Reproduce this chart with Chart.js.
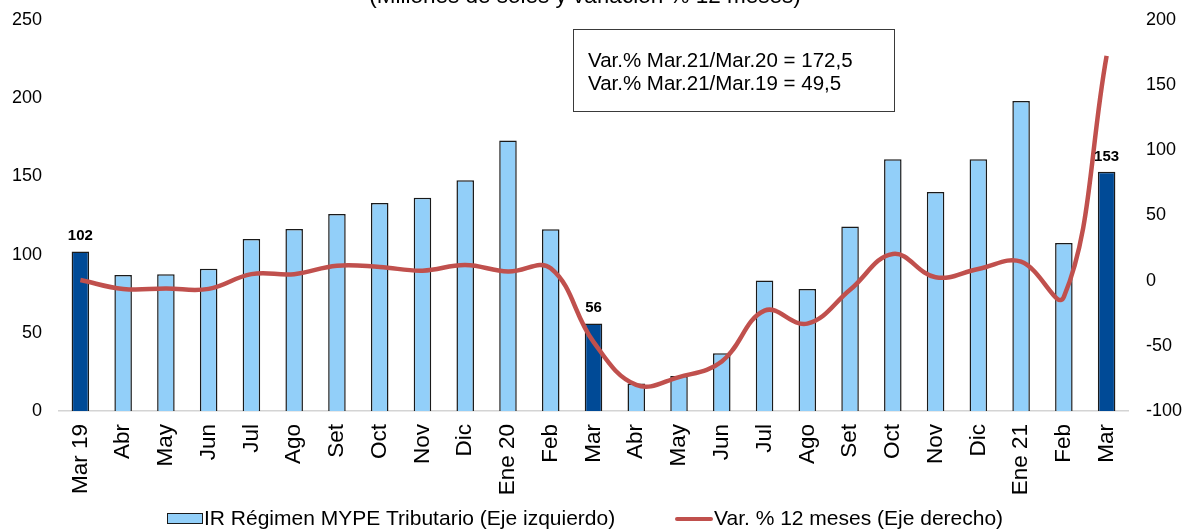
<!DOCTYPE html>
<html>
<head>
<meta charset="utf-8">
<script src="https://cdn.jsdelivr.net/npm/chart.js@4/dist/chart.umd.min.js"></script>
<style>
  html, body { margin: 0; padding: 0; background: #ffffff; }
  #wrap { width: 1184px; height: 530px; position: relative; }
</style>
</head>
<body>
<div id="wrap"><canvas id="c" width="1184" height="530"></canvas></div>
<script>
// ---- Data ----
const categories = ['Mar 19','Abr','May','Jun','Jul','Ago','Set','Oct','Nov','Dic','Ene 20','Feb',
                    'Mar','Abr','May','Jun','Jul','Ago','Set','Oct','Nov','Dic','Ene 21','Feb','Mar'];
const recaudacion = [102, 87, 87.5, 91, 110, 116.4, 126, 133, 136.4, 147.5, 173, 116.2,
                     56, 17.6, 22.3, 37, 83.4, 78, 118, 161, 140, 161, 198.2, 107.4, 153];
const variacion = [0.5, -6.4, -6, -6.3, 5, 5, 11.5, 10.5, 7.7, 12, 7, 9.5,
                   -47, -80, -74, -62, -23, -33, -7, 20.5, 2.6, 9, 14.6, -12.5, 172.5];
const destacados = [0, 12, 24];           // indexes of the labelled months
const leftTicks = [0, 50, 100, 150, 200, 250];
const rightTicks = [-100, -50, 0, 50, 100, 150, 200];
const titleText = '(Millones de soles y variación % 12 meses)';
const serieBarras = 'IR Régimen MYPE Tributario (Eje izquierdo)';
const serieLinea = 'Var. % 12 meses (Eje derecho)';
const notaLineas = ['Var.% Mar.21/Mar.20 = 172,5', 'Var.% Mar.21/Mar.19 = 49,5'];

// ---- Styles ----
const FONT = '"Liberation Sans", Arial, sans-serif';
const LIGHT = '#92CFF9';
const DARK = '#004A96';
const RED = '#C0504D';

const barColors = recaudacion.map((v, i) => destacados.includes(i) ? DARK : LIGHT);

const overlay = {
  id: 'overlay',
  afterDatasetsDraw(chart) {
    const ctx = chart.ctx;
    const meta = chart.getDatasetMeta(1);
    ctx.save();
    ctx.font = 'bold 15px ' + FONT;
    ctx.fillStyle = '#000';
    ctx.textAlign = 'center';
    ctx.textBaseline = 'alphabetic';
    destacados.forEach(i => {
      const el = meta.data[i];
      ctx.fillText(Math.round(recaudacion[i]).toString(), el.x, el.y - 11);
    });
    ctx.restore();
  },
  afterDraw(chart) {
    const ctx = chart.ctx;
    ctx.save();
    // title (cut at top)
    ctx.font = '22.5px ' + FONT;
    ctx.fillStyle = '#000';
    ctx.textAlign = 'center';
    ctx.textBaseline = 'alphabetic';
    ctx.fillText(titleText, 585, 3);
    // annotation box
    ctx.fillStyle = '#fff';
    ctx.fillRect(573.5, 29.5, 321, 82);
    ctx.strokeStyle = '#3a3a3a';
    ctx.lineWidth = 1;
    ctx.strokeRect(573.5, 29.5, 321, 82);
    ctx.fillStyle = '#000';
    ctx.font = '20.5px ' + FONT;
    ctx.textAlign = 'left';
    ctx.fillText(notaLineas[0], 588, 67);
    ctx.fillText(notaLineas[1], 588, 90);
    // legend
    const ly = 519;
    ctx.fillStyle = LIGHT;
    ctx.fillRect(167.5, 513.5, 35, 10);
    ctx.strokeStyle = '#1a1a1a';
    ctx.lineWidth = 1;
    ctx.strokeRect(167.5, 513.5, 35, 10);
    ctx.fillStyle = '#000';
    ctx.font = '21px ' + FONT;
    ctx.textBaseline = 'middle';
    ctx.fillText(serieBarras, 204, ly);
    ctx.strokeStyle = RED;
    ctx.lineWidth = 4;
    ctx.lineCap = 'round';
    ctx.beginPath();
    ctx.moveTo(677, ly);
    ctx.lineTo(711, ly);
    ctx.stroke();
    ctx.fillText(serieLinea, 714, ly);
    ctx.restore();
  }
};

function fitVertical(width) {
  return function (s) {
    s.width = width;
    s.paddingTop = 0;
    s.paddingBottom = 0;
  };
}

new Chart(document.getElementById('c'), {
  data: {
    labels: categories,
    datasets: [
      {
        type: 'line',
        label: serieLinea,
        data: variacion,
        yAxisID: 'y2',
        borderColor: RED,
        borderWidth: 4.5,
        tension: 0.4,
        pointRadius: 0,
        fill: false,
        order: 0
      },
      {
        type: 'bar',
        label: serieBarras,
        data: recaudacion,
        yAxisID: 'y',
        backgroundColor: barColors,
        borderColor: '#1a1a1a',
        borderWidth: 1.5,
        categoryPercentage: 1,
        barPercentage: 0.41,
        order: 1
      }
    ]
  },
  options: {
    responsive: false,
    devicePixelRatio: 1,
    animation: false,
    layout: { padding: { top: 20, left: 0, right: 0, bottom: 0 } },
    plugins: {
      legend: { display: false },
      title: { display: false },
      tooltip: { enabled: false }
    },
    scales: {
      x: {
        position: 'bottom',
        grid: { display: false, drawTicks: false },
        border: { display: true, color: '#d4d4d4', width: 1.5 },
        ticks: {
          color: '#000',
          font: { family: FONT, size: 22.5 },
          minRotation: 90,
          maxRotation: 90,
          padding: 13,
          autoSkip: false
        },
        afterFit(s) { s.height = 119; s.paddingLeft = 0; s.paddingRight = 0; }
      },
      y: {
        position: 'left',
        min: 0, max: 250,
        afterBuildTicks(s) { s.ticks = leftTicks.map(v => ({ value: v })); },
        grid: { display: false, drawTicks: false },
        border: { display: false },
        ticks: { color: '#000', font: { family: FONT, size: 18 }, padding: 17 },
        afterFit: fitVertical(59)
      },
      y2: {
        position: 'right',
        min: -100, max: 200,
        afterBuildTicks(s) { s.ticks = rightTicks.map(v => ({ value: v })); },
        grid: { display: false, drawTicks: false },
        border: { display: false },
        ticks: { color: '#000', font: { family: FONT, size: 18 }, padding: 18 },
        afterFit: fitVertical(56)
      }
    }
  },
  plugins: [overlay]
});
</script>
</body>
</html>
